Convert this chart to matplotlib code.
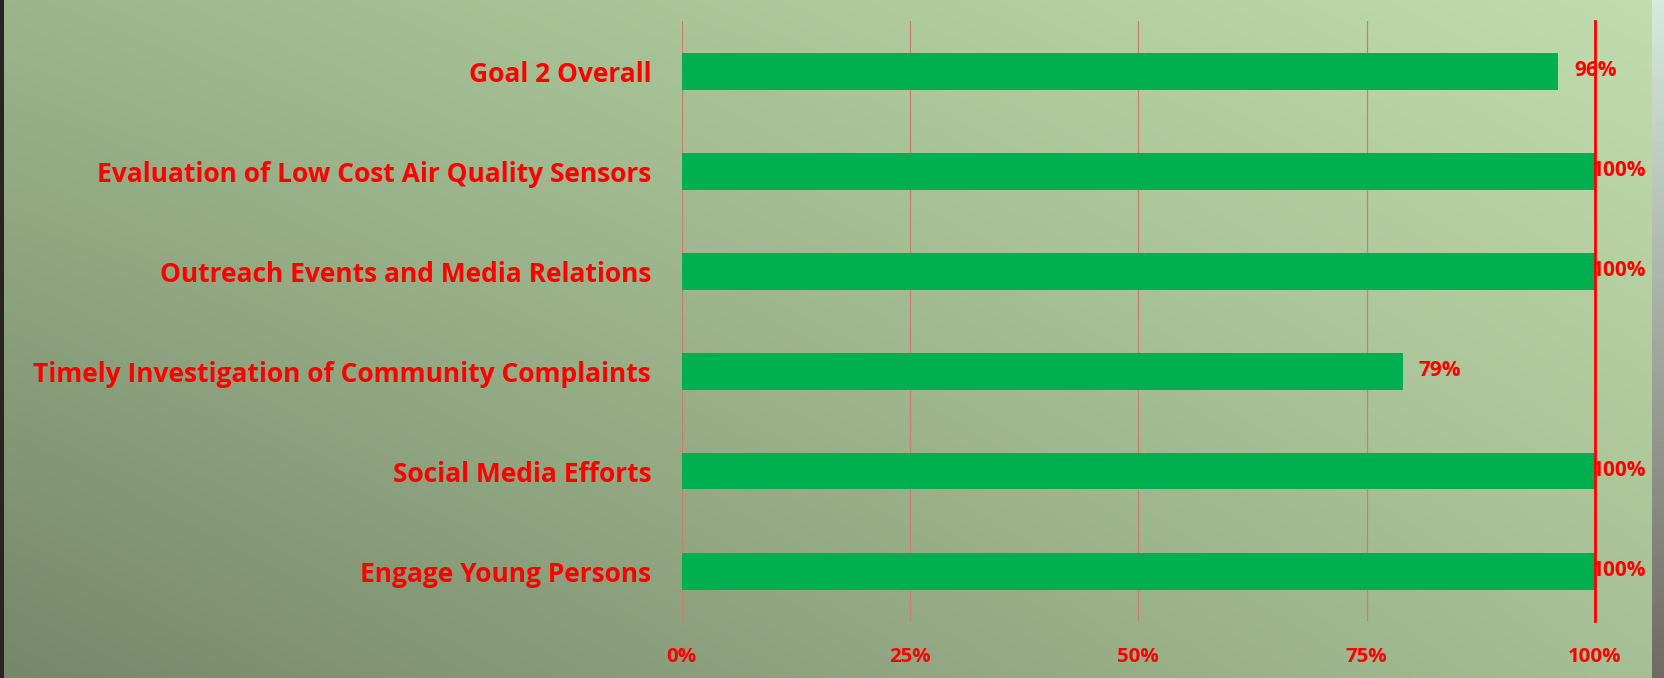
import numpy as np
import matplotlib
matplotlib.use("Agg")
from matplotlib import pyplot as plt
from matplotlib.colors import to_rgb

# chart data (top to bottom)
categories = [
    "Goal 2 Overall",
    "Evaluation of Low Cost Air Quality Sensors",
    "Outreach Events and Media Relations",
    "Timely Investigation of Community Complaints",
    "Social Media Efforts",
    "Engage Young Persons",
]
completion = [0.96, 1.00, 1.00, 0.79, 1.00, 1.00]
x_ticks = [0, 0.25, 0.5, 0.75, 1.0]
x_tick_labels = ["0%", "25%", "50%", "75%", "100%"]

RED = "#ff0000"
GREEN = "#00b050"
W, H = 1665, 678

plt.rcParams["font.family"] = ["Open Sans", "DejaVu Sans"]

fig = plt.figure(figsize=(W / 100, H / 100), dpi=100)
fig.patch.set_facecolor("#2a2420")

# background gradient (lighter towards top right)
bg = fig.add_axes([4 / W, 0, (1652 - 4) / W, 1])
tl, tr = np.array(to_rgb("#9cb68b")), np.array(to_rgb("#c1dcae"))
bl, br = np.array(to_rgb("#77876a")), np.array(to_rgb("#a6bf94"))
u = np.linspace(0, 1, 400)[None, :, None]
v = np.linspace(0, 1, 200)[:, None, None]
img = (1 - v) * ((1 - u) * tl + u * tr) + v * ((1 - u) * bl + u * br)
bg.imshow(img, aspect="auto", extent=(0, 1, 0, 1))
bg.axis("off")

# right strip (photo behind the slide)
strip = fig.add_axes([1652 / W, 0, 13 / W, 1])
sv = np.linspace(0, 1, 100)[:, None, None]
sc = (1 - sv) * np.array(to_rgb("#d6eadb")) + sv * np.array(to_rgb("#6f6a62"))
strip.imshow(sc, aspect="auto", extent=(0, 1, 0, 1))
strip.axis("off")

ax = fig.add_axes([681.7 / W, 1 - 621 / H, 913.3 / W, 600 / H])
ax.patch.set_alpha(0)

y = np.arange(len(categories))
for xv in x_ticks[:-1]:
    ax.axvline(xv, color="#c8806a", lw=0.9, zorder=1)
ax.barh(y, completion, height=0.37, color=GREEN, zorder=2)
ax.axvline(1.0, color=RED, lw=2.0, zorder=3, clip_on=False)

for yi, val in zip(y, completion):
    ax.text(min(val + 0.017, 0.996), yi, f"{val:.0%}", color=RED,
            fontsize=15, fontweight="bold", va="center", ha="left", zorder=4)

ax.set_xlim(0, 1)
ax.set_ylim(len(categories) - 0.5, -0.5)
ax.set_yticks(y)
ax.set_yticklabels(categories, color=RED, fontsize=19, fontweight="bold")
ax.set_xticks(x_ticks)
ax.set_xticklabels(x_tick_labels, color=RED, fontsize=14.7, fontweight="bold")
ax.tick_params(axis="y", length=0, pad=22)
ax.tick_params(axis="x", length=0, pad=19)
for s in ax.spines.values():
    s.set_visible(False)

fig.savefig("out.png", dpi=100, facecolor=fig.get_facecolor())
